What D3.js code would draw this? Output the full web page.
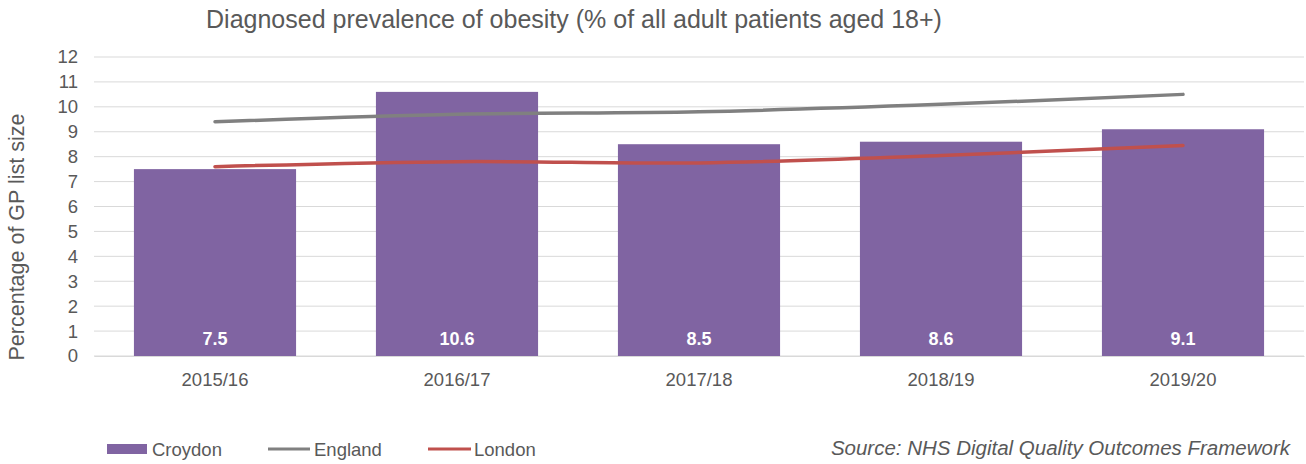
<!DOCTYPE html>
<html>
<head>
<meta charset="utf-8">
<script src="https://cdn.jsdelivr.net/npm/d3@7"></script>
<style>
  body { margin: 0; background: #fff; }
  svg text { font-family: "Liberation Sans", Arial, sans-serif; }
</style>
</head>
<body>
<svg id="chart" width="1306" height="464"></svg>
<script>
const years = ["2015/16", "2016/17", "2017/18", "2018/19", "2019/20"];
const croydon = [7.5, 10.6, 8.5, 8.6, 9.1];
const england = [9.4, 9.7, 9.8, 10.1, 10.5];
const london = [7.6, 7.8, 7.75, 8.05, 8.45];
const yTicks = d3.range(0, 13);

const svg = d3.select('#chart');
const plotLeft = 94, plotRight = 1304, plotTop = 57, plotBottom = 356;

const x = d3.scaleBand().domain(years).range([plotLeft, plotRight]).paddingInner(0.33).paddingOuter(0.165);
const y = d3.scaleLinear().domain([0, 12]).range([plotBottom, plotTop]);

// gridlines
svg.append('g').selectAll('line')
    .data(yTicks)
    .enter()
    .append('line')
    .attr('x1', plotLeft).attr('x2', plotRight)
    .attr('y1', d => y(d)).attr('y2', d => y(d))
    .attr('stroke', '#d9d9d9').attr('stroke-width', 1);

// y axis
const yAxis = svg.append('g')
    .attr('transform', 'translate(' + (plotLeft - 16) + ',0)')
    .call(d3.axisLeft(y).tickValues(yTicks).tickSize(0).tickPadding(0).tickFormat(d3.format('d')));
yAxis.select('.domain').remove();
yAxis.selectAll('text').attr('font-size', 18.5).attr('fill', '#595959');

// x axis
const xAxis = svg.append('g')
    .attr('transform', 'translate(0,' + plotBottom + ')')
    .call(d3.axisBottom(x).tickSize(0).tickPadding(0));
xAxis.select('.domain').attr('stroke', '#d9d9d9');
xAxis.selectAll('text').attr('font-size', 18.5).attr('fill', '#595959')
    .attr('dy', null).attr('y', 30);

// bars
svg.append('g').selectAll('rect')
    .data(croydon)
    .enter()
    .append('rect')
    .attr('x', (d, i) => x(years[i]))
    .attr('width', x.bandwidth())
    .attr('y', d => y(d))
    .attr('height', d => plotBottom - y(d))
    .attr('fill', '#8064A2');

svg.append('g').selectAll('text')
    .data(croydon)
    .enter()
    .append('text')
    .attr('x', (d, i) => x(years[i]) + x.bandwidth() / 2)
    .attr('y', plotBottom - 11)
    .attr('text-anchor', 'middle')
    .attr('font-size', 18)
    .attr('font-weight', 'bold')
    .attr('fill', '#fff')
    .text(d => d.toFixed(1));

// lines
const line = d3.line()
    .x((d, i) => x(years[i]) + x.bandwidth() / 2)
    .y(d => y(d))
    .curve(d3.curveCatmullRom.alpha(0.5));

svg.append('path').datum(england)
    .attr('d', line).attr('fill', 'none')
    .attr('stroke', '#808080').attr('stroke-width', 3.5).attr('stroke-linecap', 'round');
svg.append('path').datum(london)
    .attr('d', line).attr('fill', 'none')
    .attr('stroke', '#C0504D').attr('stroke-width', 3.5).attr('stroke-linecap', 'round');

// title
svg.append('text')
    .attr('x', 574).attr('y', 28)
    .attr('text-anchor', 'middle')
    .attr('font-size', 25).attr('fill', '#595959')
    .text('Diagnosed prevalence of obesity (% of all adult patients aged 18+)');

// y label
svg.append('text')
    .attr('transform', 'translate(24,237) rotate(-90)')
    .attr('text-anchor', 'middle')
    .attr('font-size', 21.5).attr('fill', '#595959')
    .text('Percentage of GP list size');

// legend
const legend = svg.append('g').attr('transform', 'translate(0,449)');
legend.append('rect').attr('x', 107).attr('y', -5).attr('width', 40).attr('height', 10).attr('fill', '#8064A2');
legend.append('text').attr('x', 152).attr('y', 6.5).attr('font-size', 18.5).attr('fill', '#595959').text('Croydon');
legend.append('line').attr('x1', 268).attr('x2', 310).attr('y1', 0).attr('y2', 0).attr('stroke', '#808080').attr('stroke-width', 3);
legend.append('text').attr('x', 314).attr('y', 6.5).attr('font-size', 18.5).attr('fill', '#595959').text('England');
legend.append('line').attr('x1', 428).attr('x2', 471).attr('y1', 0).attr('y2', 0).attr('stroke', '#C0504D').attr('stroke-width', 3);
legend.append('text').attr('x', 474).attr('y', 6.5).attr('font-size', 18.5).attr('fill', '#595959').text('London');

// source
svg.append('text')
    .attr('x', 1290).attr('y', 455)
    .attr('text-anchor', 'end')
    .attr('font-size', 20.5).attr('font-style', 'italic').attr('fill', '#595959')
    .text('Source: NHS Digital Quality Outcomes Framework');
</script>
</body>
</html>
